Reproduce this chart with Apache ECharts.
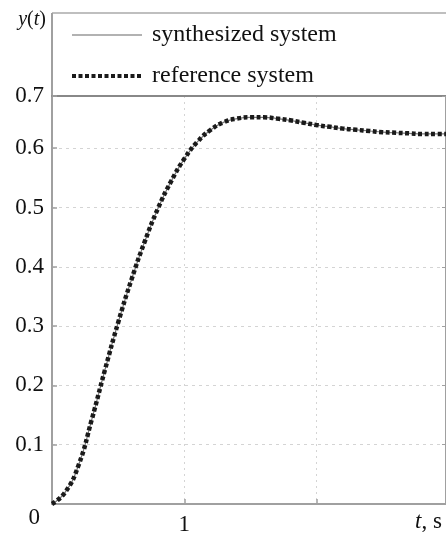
<!DOCTYPE html>
<html>
<head>
<meta charset="utf-8">
<script src="https://cdn.jsdelivr.net/npm/echarts@6/dist/echarts.min.js"></script>
<style>
html,body{margin:0;padding:0;background:#fff;}
#chart{width:446px;height:533px;}
</style>
</head>
<body>
<div id="chart"></div>
<script>
// time, s
const tValues = [0, 0.1, 0.2, 0.3, 0.4, 0.5, 0.6, 0.7, 0.8, 0.9, 1.0, 1.1, 1.2, 1.3, 1.4, 1.5, 1.6, 1.7, 1.8, 1.9, 2.0, 2.1, 2.2, 2.3, 2.4, 2.5, 2.6, 2.7, 2.8, 2.9, 2.98];
// reference system y(t)
const referenceY = [0, 0.02, 0.065, 0.142, 0.226, 0.306, 0.378, 0.442, 0.498, 0.544, 0.582, 0.611, 0.631, 0.644, 0.650, 0.652, 0.652, 0.650, 0.647, 0.643, 0.639, 0.636, 0.633, 0.631, 0.629, 0.627, 0.626, 0.625, 0.624, 0.624, 0.624];
// synthesized system y(t) (coincides with reference)
const synthesizedY = [0, 0.02, 0.065, 0.142, 0.226, 0.306, 0.378, 0.442, 0.498, 0.544, 0.582, 0.611, 0.631, 0.644, 0.650, 0.652, 0.652, 0.650, 0.647, 0.643, 0.639, 0.636, 0.633, 0.631, 0.629, 0.627, 0.626, 0.625, 0.624, 0.624, 0.624];
const seriesNames = ['synthesized system', 'reference system'];
const yTickLabels = ['0', '0.1', '0.2', '0.3', '0.4', '0.5', '0.6', '0.7'];
const xTickLabels = ['0', '1', '2', ''];

const FONT = 'Liberation Serif';
const chart = echarts.init(document.getElementById('chart'));
const axisGray = '#a0a0a0';

chart.setOption({
  animation: false,
  grid: {left: 52, right: 0, top: 96, bottom: 29, containLabel: false, outerBoundsMode: 'none'},
  legend: {
    left: 65, top: 18, orient: 'vertical',
    itemWidth: 70, itemHeight: 20, itemGap: 17,
    itemStyle: {opacity: 0},
    textStyle: {fontFamily: FONT, fontSize: 24, color: '#111', lineHeight: 20, padding: [0, 0, 0, 5]},
    data: [
      {name: seriesNames[0], lineStyle: {width: 1.2, color: '#666'}},
      {name: seriesNames[1], lineStyle: {width: 4}}
    ]
  },
  graphic: [
    {type: 'line', shape: {x1: 52, y1: 13, x2: 446, y2: 13}, style: {stroke: '#aaa', lineWidth: 1.5}, silent: true},
    {type: 'line', shape: {x1: 52, y1: 13, x2: 52, y2: 96}, style: {stroke: axisGray, lineWidth: 2}, silent: true}
  ],
  xAxis: [{
    type: 'value', min: 0, max: 2.978, interval: 1,
    axisLine: {show: true, onZero: false, lineStyle: {color: axisGray, width: 2}},
    axisTick: {show: true, inside: true, length: 5, lineStyle: {color: axisGray, width: 1.5}},
    axisLabel: {
      margin: 9, fontFamily: FONT, fontSize: 23, color: '#111',
      showMaxLabel: false,
      formatter: v => { const i = Math.round(v); return (i === 0 || i === 2) ? '' : xTickLabels[i]; }
    },
    splitLine: {show: true, lineStyle: {color: '#d4d4d4', type: [2, 4], width: 1}},
    name: '{i|t}{n|, s}', nameLocation: 'end', nameGap: -31,
    nameTextStyle: {
      verticalAlign: 'top', padding: [6, 0, 0, 0],
      rich: {i: {fontFamily: FONT, fontStyle: 'italic', fontSize: 23, color: '#111'}, n: {fontFamily: FONT, fontSize: 23, color: '#111'}}
    }
  }, {
    type: 'value', min: 0, max: 2.978, interval: 1, position: 'top',
    axisLine: {show: true, onZero: false, lineStyle: {color: '#888', width: 2}},
    axisTick: {show: false}, axisLabel: {show: false}, splitLine: {show: false}
  }],
  yAxis: [{
    type: 'value', min: 0, max: 0.688, interval: 0.1,
    axisLine: {show: true, onZero: false, lineStyle: {color: axisGray, width: 2}},
    axisTick: {show: true, inside: true, length: 5, lineStyle: {color: axisGray, width: 1.5}},
    axisLabel: {
      margin: 8, fontFamily: FONT, fontSize: 23, color: '#111', showMaxLabel: true,
      formatter: v => {
        const i = Math.round(v * 10);
        if (i === 0) return '{z|' + yTickLabels[0] + '}';
        return yTickLabels[i];
      },
      rich: {z: {fontFamily: FONT, fontSize: 23, color: '#111', padding: [28, 4, 0, 0]}}
    },
    splitLine: {show: true, lineStyle: {color: '#d4d4d4', type: [3, 4], width: 1}},
    name: '{i|y}{n|(}{i|t}{n|)}', nameLocation: 'end', nameGap: 66,
    nameTextStyle: {
      align: 'right', padding: [0, 6, 0, 0],
      rich: {i: {fontFamily: FONT, fontStyle: 'italic', fontSize: 20, color: '#111'}, n: {fontFamily: FONT, fontSize: 20, color: '#111'}}
    }
  }, {
    type: 'value', min: 0, max: 0.688, interval: 0.1, position: 'right',
    axisLine: {show: true, onZero: false, lineStyle: {color: axisGray, width: 2}},
    axisTick: {show: true, inside: true, length: 4, lineStyle: {color: axisGray}},
    axisLabel: {show: false}, splitLine: {show: false}
  }],
  series: [{
    name: seriesNames[0], type: 'line', smooth: true, symbol: 'none', showSymbol: false,
    lineStyle: {color: '#777', width: 1.2},
    itemStyle: {color: '#777'},
    data: tValues.map((t, i) => [t, synthesizedY[i]])
  }, {
    name: seriesNames[1], type: 'line', smooth: true, symbol: 'none', showSymbol: false,
    lineStyle: {color: '#1a1a1a', width: 4.5, type: [4, 2.5], cap: 'butt'},
    itemStyle: {color: '#1a1a1a'},
    data: tValues.map((t, i) => [t, referenceY[i]])
  }]
});
</script>
</body>
</html>
